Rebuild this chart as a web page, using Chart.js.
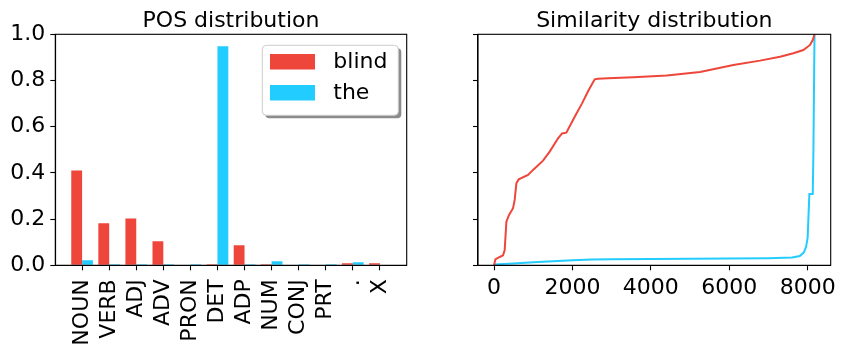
<!DOCTYPE html>
<html>
<head>
<meta charset="utf-8">
<script src="https://cdn.jsdelivr.net/npm/chart.js@4.4.1/dist/chart.umd.min.js"></script>
<style>
  body { margin: 0; background: #fff; }
  #wrap { position: relative; width: 845px; height: 351px; }
  canvas { position: absolute; top: 0; }
</style>
</head>
<body>
<div id="wrap">
  <canvas id="posChart" width="430" height="351" style="left:0"></canvas>
  <canvas id="simChart" width="415" height="351" style="left:430px"></canvas>
</div>
<script>
// POS distribution (bars)
const posCats = ['NOUN', 'VERB', 'ADJ', 'ADV', 'PRON', 'DET', 'ADP', 'NUM', 'CONJ', 'PRT', '.', 'X'];
const blindPos = [0.41, 0.182, 0.203, 0.104, 0.0, 0.005, 0.087, 0.005, 0.0, 0.0, 0.009, 0.009];
const thePos = [0.022, 0.005, 0.005, 0.005, 0.005, 0.948, 0.005, 0.017, 0.005, 0.005, 0.013, 0.0];

// Similarity distribution (sorted values)
const blindSimX = [0, 34, 145, 230, 272, 315, 383, 485, 527, 570, 629, 867, 995, 1250, 1420, 1633, 1735, 1845, 2058, 2245, 2415, 2568, 2650, 2908, 3554, 4405, 5255, 6105, 6786, 7296, 7636, 7890, 8061, 8130, 8175];
const blindSimY = [0.0, 0.026, 0.036, 0.043, 0.066, 0.189, 0.218, 0.247, 0.283, 0.355, 0.372, 0.391, 0.413, 0.453, 0.492, 0.55, 0.571, 0.574, 0.643, 0.701, 0.759, 0.805, 0.808, 0.81, 0.814, 0.822, 0.837, 0.867, 0.886, 0.903, 0.918, 0.932, 0.954, 0.975, 1.0];
const theSimX = [0, 500, 1000, 1500, 2000, 2500, 3000, 4000, 5000, 6000, 7000, 7600, 7800, 7900, 7960, 8000, 8030, 8044, 8130, 8147, 8175];
const theSimY = [0.004, 0.008, 0.013, 0.018, 0.022, 0.025, 0.026, 0.027, 0.028, 0.029, 0.031, 0.034, 0.04, 0.055, 0.08, 0.12, 0.25, 0.309, 0.309, 0.49, 1.0];

const yTicks = [0, 0.2, 0.4, 0.6, 0.8, 1.0];
const simTicks = [0, 2000, 4000, 6000, 8000];

const RED = '#ee463a';
const CYAN = '#22ccff';
const FONT = '"DejaVu Sans"';

Chart.defaults.font.family = 'DejaVu Sans';
Chart.defaults.font.size = 22;
Chart.defaults.color = '#000';
Chart.defaults.animation = false;

// box round the plot area (matplotlib spines) + title over the plot area
const framePlugin = {
    id: 'frame',
    afterDraw(chart, args, opts) {
        const a = chart.chartArea, c = chart.ctx;
        c.save();
        c.strokeStyle = '#000';
        c.lineWidth = 1.1;
        c.strokeRect(a.left, a.top, a.right - a.left, a.bottom - a.top);
        c.fillStyle = '#000';
        c.font = '22px ' + FONT;
        c.textAlign = 'center';
        c.textBaseline = 'alphabetic';
        c.fillText(opts.title, (a.left + a.right) / 2, a.top - 7.6);
        c.restore();
    }
};

// legend inside the axes, upper right, with a shadow
const boxLegend = {
    id: 'boxLegend',
    afterDraw(chart) {
        const a = chart.chartArea, c = chart.ctx;
        const w = 136, h = 70;
        const x = a.right - 8.4 - w, y = a.top + 11;
        c.save();
        c.fillStyle = 'rgba(0,0,0,0.45)';
        roundRect(c, x + 3, y + 3, w, h, 4); c.fill();
        c.fillStyle = '#fff';
        roundRect(c, x, y, w, h, 4); c.fill();
        c.strokeStyle = '#cccccc';
        c.lineWidth = 1;
        roundRect(c, x, y, w, h, 4); c.stroke();
        c.font = '22px ' + FONT;
        c.textBaseline = 'middle';
        chart.data.datasets.forEach((ds, i) => {
            const ry = y + 8.7 + i * 31;
            c.fillStyle = ds.backgroundColor;
            c.fillRect(x + 7.7, ry, 45, 15.5);
            c.fillStyle = '#000';
            c.fillText(ds.label, x + 71, ry + 8);
        });
        c.restore();
    }
};

function roundRect(c, x, y, w, h, r) {
    c.beginPath();
    c.moveTo(x + r, y);
    c.arcTo(x + w, y, x + w, y + h, r);
    c.arcTo(x + w, y + h, x, y + h, r);
    c.arcTo(x, y + h, x, y, r);
    c.arcTo(x, y, x + w, y, r);
    c.closePath();
}

function yAxis(width, showLabels) {
    return {
        min: 0, max: 1,
        afterFit: s => { s.width = width; },
        afterBuildTicks: s => { s.ticks = yTicks.map(v => ({ value: v })); },
        ticks: { display: showLabels, padding: 5, callback: v => v.toFixed(1) },
        grid: { drawOnChartArea: false, color: '#000', tickLength: 5, tickWidth: 1.1 },
        border: { color: '#000', width: 1.1 }
    };
}

new Chart(document.getElementById('posChart'), {
    type: 'bar',
    data: {
        datasets: [
            { label: 'blind', data: posCats.map((c, i) => ({ x: i, y: blindPos[i] })), backgroundColor: RED },
            { label: 'the', data: posCats.map((c, i) => ({ x: i, y: thePos[i] })), backgroundColor: CYAN }
        ]
    },
    options: {
        responsive: false,
        devicePixelRatio: 1,
        layout: { padding: { left: 0, right: 23.3, top: 34.3, bottom: 0 } },
        categoryPercentage: 0.8,
        barPercentage: 1.0,
        scales: {
            x: {
                type: 'linear',
                offset: false,
                min: -0.99, max: 11.99,
                afterFit: s => { s.height = 85.7; },
                afterBuildTicks: s => { s.ticks = posCats.map((c, i) => ({ value: i })); },
                ticks: { minRotation: 90, maxRotation: 90, padding: 9, autoSkip: false, callback: v => posCats[v] },
                grid: { offset: false, drawOnChartArea: false, color: '#000', tickLength: 5, tickWidth: 1.1 },
                border: { color: '#000', width: 1.1 }
            },
            y: yAxis(55.3, true)
        },
        plugins: {
            legend: { display: false },
            tooltip: { enabled: false },
            frame: { title: 'POS distribution' }
        }
    },
    plugins: [framePlugin, boxLegend]
});

new Chart(document.getElementById('simChart'), {
    type: 'line',
    data: {
        datasets: [
            { label: 'blind', data: blindSimX.map((x, i) => ({ x: x, y: blindSimY[i] })), borderColor: RED },
            { label: 'the', data: theSimX.map((x, i) => ({ x: x, y: theSimY[i] })), borderColor: CYAN }
        ]
    },
    options: {
        responsive: false,
        devicePixelRatio: 1,
        layout: { padding: { left: 0, right: 14.3, top: 34.3, bottom: 0 } },
        elements: { point: { radius: 0 }, line: { borderWidth: 2, tension: 0 } },
        scales: {
            x: {
                type: 'linear',
                min: -409, max: 8588,
                afterFit: s => { s.height = 85.7; },
                afterBuildTicks: s => { s.ticks = simTicks.map(v => ({ value: v })); },
                ticks: { padding: 5, maxRotation: 0, callback: v => String(v) },
                grid: { drawOnChartArea: false, color: '#000', tickLength: 5, tickWidth: 1.1 },
                border: { color: '#000', width: 1.1 }
            },
            y: yAxis(48, false)
        },
        plugins: {
            legend: { display: false },
            tooltip: { enabled: false },
            frame: { title: 'Similarity distribution' }
        }
    },
    plugins: [framePlugin]
});
</script>
</body>
</html>
